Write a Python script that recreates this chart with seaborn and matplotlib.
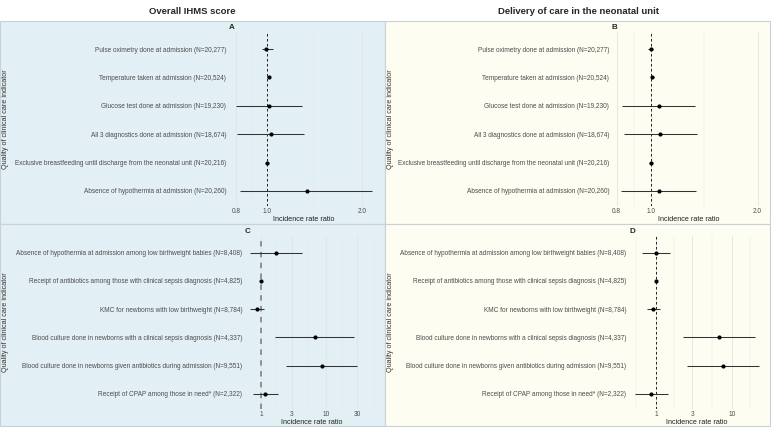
import numpy as np
import pandas as pd
import matplotlib
matplotlib.use("Agg")
import matplotlib.pyplot as plt
from matplotlib.patches import Rectangle
from matplotlib.ticker import NullFormatter
import seaborn as sns

# ---------------------------
# Data
# ---------------------------
labels_top = [
    "Pulse oximetry done at admission (N=20,277)",
    "Temperature taken at admission (N=20,524)",
    "Glucose test done at admission (N=19,230)",
    "All 3 diagnostics done at admission (N=18,674)",
    "Exclusive breastfeeding until discharge from the neonatal unit (N=20,216)",
    "Absence of hypothermia at admission (N=20,260)",
]
labels_bottom = [
    "Absence of hypothermia at admission among low birthweight babies (N=8,408)",
    "Receipt of antibiotics among those with clinical sepsis diagnosis (N=4,825)",
    "KMC for newborns with low birthweight (N=8,784)",
    "Blood culture done in newborns with a clinical sepsis diagnosis (N=4,337)",
    "Blood culture done in newborns given antibiotics during admission (N=9,551)",
    "Receipt of CPAP among those in need* (N=2,322)",
]

# panel A: overall IHMS score
a_est = [0.995, 1.015, 1.015, 1.034, 1.002, 1.341]
a_lo = [0.968, 1.005, 0.798, 0.807, 0.990, 0.823]
a_hi = [1.045, 1.025, 1.293, 1.310, 1.014, 2.160]

# panel B: delivery of care
b_est = [1.000, 1.008, 1.051, 1.060, 1.000, 1.051]
b_lo = [0.983, 0.998, 0.830, 0.841, 0.990, 0.823]
b_hi = [1.015, 1.018, 1.334, 1.352, 1.010, 1.343]

# panel C: overall IHMS score
c_est = [1.70, 1.00, 0.858, 6.70, 8.60, 1.165]
c_lo = [0.677, 0.97, 0.677, 1.64, 2.42, 0.745]
c_hi = [4.27, 1.03, 1.12, 27.0, 30.3, 1.80]

# panel D: delivery of care
d_est = [1.00, 1.00, 0.92, 6.70, 7.55, 0.867]
d_lo = [0.649, 0.96, 0.76, 2.27, 2.56, 0.534]
d_hi = [1.54, 1.04, 1.12, 20.1, 22.4, 1.44]

ticks_top = [0.8, 1.0, 2.0]
ticklabels_top = ["0.8", "1.0", "2.0"]
ticks_c = [1, 3, 10, 30]
ticks_d = [1, 3, 10]

col_titles = ["Overall IHMS score", "Delivery of care in the neonatal unit"]
ylab = "Quality of clinical care indicator"
xlab = "Incidence rate ratio"

# ---------------------------
# Style
# ---------------------------
sns.set_theme(style="white")
plt.rcParams["font.family"] = ["Liberation Sans", "DejaVu Sans"]

W, H = 771, 428
BLUE = "#e2eff4"
CREAM = "#fdfdf1"
EDGE = "#c8d2d5"
TXT = "#4d4d4d"

fig = plt.figure(figsize=(W / 100, H / 100), dpi=100)


def fbox(l, t, r, b):
    return [l / W, 1 - b / H, (r - l) / W, (b - t) / H]


# panel backgrounds
for (l, t, r, b, c) in [(0, 21, 385, 224, BLUE), (385, 21, 770, 224, CREAM),
                        (0, 224, 385, 426, BLUE), (385, 224, 770, 426, CREAM)]:
    fig.patches.append(Rectangle((l / W, 1 - b / H), (r - l) / W, (b - t) / H,
                                 transform=fig.transFigure, facecolor=c,
                                 edgecolor=EDGE, linewidth=0.8, zorder=-5))

fig.text(192.5 / W, 1 - 11 / H, col_titles[0], ha="center", va="center",
         fontsize=6.8, fontweight="bold")
fig.text(578 / W, 1 - 11 / H, col_titles[1], ha="center", va="center",
         fontsize=6.8, fontweight="bold")


def forest(box, labels, est, lo, hi, xlim, ticks, ticklabels, minors, letter,
           ylim, refcolor="black", reflw=0.6):
    ax = fig.add_axes(fbox(*box))
    ax.set_facecolor("none")
    ax.set_xscale("log")
    df = pd.DataFrame({"label": labels, "est": est, "lo": lo, "hi": hi,
                       "pos": np.arange(len(labels))})
    ax.set_xticks(ticks)
    ax.set_xticklabels(ticklabels)
    ax.set_xticks(minors, minor=True)
    ax.xaxis.set_minor_formatter(NullFormatter())
    ax.grid(axis="x", which="major", color="#e2e4e4", linewidth=0.6, zorder=0)
    ax.grid(axis="x", which="minor", color="#e8eaea", linewidth=0.35, zorder=0)
    ax.axvline(1, color=refcolor, linestyle=(0, (3, 3)), linewidth=reflw, zorder=1)
    ax.hlines(df["pos"], df["lo"], df["hi"], color="#333333", linewidth=0.75, zorder=2)
    sns.scatterplot(data=df, x="est", y="pos", ax=ax, color="black", s=9,
                    linewidth=0, zorder=3, legend=False)
    ax.set_xlim(*xlim)
    ax.set_ylim(*ylim)
    ax.set_yticks(df["pos"])
    ax.set_yticklabels(df["label"])
    ax.tick_params(axis="both", which="both", length=0, labelsize=4.7,
                   labelcolor=TXT, pad=2)
    ax.tick_params(axis="x", pad=1.5)
    for s in ax.spines.values():
        s.set_visible(False)
    ax.set_xlabel(xlab, fontsize=5.2, color="#222222", labelpad=1)
    ax.set_ylabel("")
    ax.set_title(letter, loc="left", fontsize=5.8, fontweight="bold", pad=2)
    return ax


forest((229, 32, 379, 206), labels_top, a_est, a_lo, a_hi, (0.760, 2.265),
       ticks_top, ticklabels_top, [0.894, 1.414], "A", (5.53, -0.6))
forest((612, 32, 766, 206), labels_top, b_est, b_lo, b_hi, (0.776, 2.113),
       ticks_top, ticklabels_top, [0.894, 1.414], "B", (5.53, -0.6))
forest((245, 236, 378, 409), labels_bottom, c_est, c_lo, c_hi, (0.567, 63),
       ticks_c, [str(t) for t in ticks_c], [1.73, 5.48, 17.3, 54.8], "C",
       (5.54, -0.59), refcolor="#7f8c90", reflw=1.3)
forest((629, 236, 765, 409), labels_bottom, d_est, d_lo, d_hi, (0.441, 27.2),
       ticks_d, [str(t) for t in ticks_d], [0.548, 1.73, 5.48, 17.3], "D",
       (5.54, -0.59))

for x in (6, 391):
    fig.text(x / W, 1 - 119 / H, ylab, rotation=90, ha="center", va="center",
             fontsize=5.2, color="#333333")
    fig.text(x / W, 1 - 322 / H, ylab, rotation=90, ha="center", va="center",
             fontsize=5.2, color="#333333")

fig.savefig("out.png", dpi=100)
